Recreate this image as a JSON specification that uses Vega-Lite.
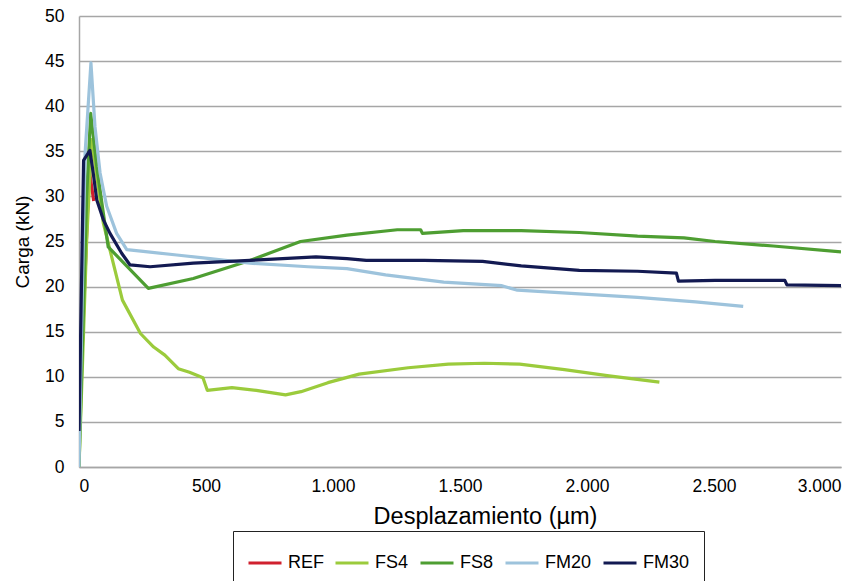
{
  "$schema": "https://vega.github.io/schema/vega-lite/v6.json",
  "width": 762,
  "height": 451,
  "autosize": {"type": "none"},
  "padding": {"left": 79, "top": 16, "right": 18, "bottom": 114},
  "background": "white",
  "config": {
    "font": "Liberation Sans",
    "view": {"stroke": null}
  },
  "data": {
    "values": [
      {"s": "REF", "x": 0, "y": 4},
      {"s": "REF", "x": 40, "y": 33},
      {"s": "REF", "x": 58, "y": 29.5},

      {"s": "FS4", "x": 0, "y": 0},
      {"s": "FS4", "x": 30, "y": 25},
      {"s": "FS4", "x": 50, "y": 36.3},
      {"s": "FS4", "x": 96, "y": 27},
      {"s": "FS4", "x": 171, "y": 18.5},
      {"s": "FS4", "x": 242, "y": 14.8},
      {"s": "FS4", "x": 294, "y": 13.3},
      {"s": "FS4", "x": 338, "y": 12.4},
      {"s": "FS4", "x": 391, "y": 10.9},
      {"s": "FS4", "x": 435, "y": 10.5},
      {"s": "FS4", "x": 488, "y": 9.9},
      {"s": "FS4", "x": 505, "y": 8.5},
      {"s": "FS4", "x": 602, "y": 8.8},
      {"s": "FS4", "x": 698, "y": 8.5},
      {"s": "FS4", "x": 813, "y": 8.0},
      {"s": "FS4", "x": 874, "y": 8.35},
      {"s": "FS4", "x": 980, "y": 9.35},
      {"s": "FS4", "x": 1103, "y": 10.3},
      {"s": "FS4", "x": 1296, "y": 11.0},
      {"s": "FS4", "x": 1454, "y": 11.4},
      {"s": "FS4", "x": 1595, "y": 11.5},
      {"s": "FS4", "x": 1735, "y": 11.4},
      {"s": "FS4", "x": 1911, "y": 10.8},
      {"s": "FS4", "x": 2087, "y": 10.1},
      {"s": "FS4", "x": 2285, "y": 9.4},

      {"s": "FS8", "x": 0, "y": 0},
      {"s": "FS8", "x": 30, "y": 30},
      {"s": "FS8", "x": 46, "y": 39.2},
      {"s": "FS8", "x": 70, "y": 33.3},
      {"s": "FS8", "x": 96, "y": 28.1},
      {"s": "FS8", "x": 115, "y": 24.4},
      {"s": "FS8", "x": 273, "y": 19.8},
      {"s": "FS8", "x": 450, "y": 20.9},
      {"s": "FS8", "x": 673, "y": 22.9},
      {"s": "FS8", "x": 872, "y": 25.0},
      {"s": "FS8", "x": 1055, "y": 25.7},
      {"s": "FS8", "x": 1253, "y": 26.3},
      {"s": "FS8", "x": 1345, "y": 26.3},
      {"s": "FS8", "x": 1352, "y": 25.9},
      {"s": "FS8", "x": 1513, "y": 26.2},
      {"s": "FS8", "x": 1741, "y": 26.2},
      {"s": "FS8", "x": 1970, "y": 26.0},
      {"s": "FS8", "x": 2199, "y": 25.6},
      {"s": "FS8", "x": 2382, "y": 25.4},
      {"s": "FS8", "x": 2504, "y": 25.0},
      {"s": "FS8", "x": 2733, "y": 24.5},
      {"s": "FS8", "x": 3000, "y": 23.85},

      {"s": "FM20", "x": 0, "y": 0},
      {"s": "FM20", "x": 10, "y": 15},
      {"s": "FM20", "x": 24, "y": 34.8},
      {"s": "FM20", "x": 47, "y": 44.8},
      {"s": "FM20", "x": 63, "y": 37.7},
      {"s": "FM20", "x": 83, "y": 32.6},
      {"s": "FM20", "x": 109, "y": 28.9},
      {"s": "FM20", "x": 148, "y": 25.9},
      {"s": "FM20", "x": 188, "y": 24.1},
      {"s": "FM20", "x": 253, "y": 23.9},
      {"s": "FM20", "x": 385, "y": 23.5},
      {"s": "FM20", "x": 516, "y": 23.1},
      {"s": "FM20", "x": 673, "y": 22.6},
      {"s": "FM20", "x": 902, "y": 22.2},
      {"s": "FM20", "x": 1055, "y": 22.0},
      {"s": "FM20", "x": 1207, "y": 21.3},
      {"s": "FM20", "x": 1436, "y": 20.5},
      {"s": "FM20", "x": 1665, "y": 20.1},
      {"s": "FM20", "x": 1726, "y": 19.6},
      {"s": "FM20", "x": 1970, "y": 19.2},
      {"s": "FM20", "x": 2199, "y": 18.8},
      {"s": "FM20", "x": 2428, "y": 18.3},
      {"s": "FM20", "x": 2615, "y": 17.8},

      {"s": "FM30", "x": 0, "y": 4},
      {"s": "FM30", "x": 18, "y": 34},
      {"s": "FM30", "x": 43, "y": 35.1},
      {"s": "FM30", "x": 56, "y": 32.6},
      {"s": "FM30", "x": 70, "y": 29.6},
      {"s": "FM30", "x": 96, "y": 27.4},
      {"s": "FM30", "x": 122, "y": 25.9},
      {"s": "FM30", "x": 168, "y": 23.7},
      {"s": "FM30", "x": 201, "y": 22.4},
      {"s": "FM30", "x": 280, "y": 22.2},
      {"s": "FM30", "x": 450, "y": 22.6},
      {"s": "FM30", "x": 673, "y": 22.9},
      {"s": "FM30", "x": 933, "y": 23.3},
      {"s": "FM30", "x": 1055, "y": 23.1},
      {"s": "FM30", "x": 1131, "y": 22.9},
      {"s": "FM30", "x": 1360, "y": 22.9},
      {"s": "FM30", "x": 1589, "y": 22.8},
      {"s": "FM30", "x": 1741, "y": 22.3},
      {"s": "FM30", "x": 1970, "y": 21.8},
      {"s": "FM30", "x": 2199, "y": 21.7},
      {"s": "FM30", "x": 2352, "y": 21.5},
      {"s": "FM30", "x": 2360, "y": 20.6},
      {"s": "FM30", "x": 2504, "y": 20.7},
      {"s": "FM30", "x": 2779, "y": 20.7},
      {"s": "FM30", "x": 2787, "y": 20.2},
      {"s": "FM30", "x": 3000, "y": 20.1}
    ]
  },
  "mark": {"type": "line", "strokeWidth": 3.2, "strokeJoin": "round", "clip": true},
  "encoding": {
    "x": {
      "field": "x",
      "type": "quantitative",
      "scale": {"domain": [0, 3000], "nice": false},
      "axis": {
        "title": "Desplazamiento (µm)",
        "titleX": 406,
        "values": [0, 500, 1000, 1500, 2000, 2500, 3000],
        "labelExpr": "replace(format(datum.value, ','), ',', '.')",
        "grid": false,
        "ticks": false,
        "domainColor": "#A6A6A6",
        "domainWidth": 1.5,
        "labelFontSize": 17.5,
        "labelColor": "black",
        "labelPadding": 10,
        "titleFontSize": 23.5,
        "titleFontWeight": "normal",
        "titleColor": "black",
        "titlePadding": 10
      }
    },
    "y": {
      "field": "y",
      "type": "quantitative",
      "scale": {"domain": [0, 50], "nice": false},
      "axis": {
        "title": "Carga (kN)",
        "values": [0, 5, 10, 15, 20, 25, 30, 35, 40, 45, 50],
        "grid": true,
        "gridColor": "#A6A6A6",
        "gridWidth": 1.5,
        "ticks": false,
        "domainColor": "#A6A6A6",
        "domainWidth": 1.5,
        "labelFontSize": 17.5,
        "labelColor": "black",
        "labelPadding": 15,
        "titleFontSize": 19,
        "titleFontWeight": "normal",
        "titleColor": "black",
        "titlePadding": 12
      }
    },
    "color": {
      "field": "s",
      "type": "nominal",
      "scale": {
        "domain": ["REF", "FS4", "FS8", "FM20", "FM30"],
        "range": ["#D0202E", "#9BCB3C", "#4E9E32", "#9DC3DC", "#131A52"]
      },
      "legend": {
        "title": null,
        "orient": "none",
        "direction": "horizontal",
        "legendX": 154,
        "legendY": 515,
        "symbolType": "stroke",
        "symbolStrokeWidth": 3,
        "symbolSize": 1089,
        "labelFontSize": 18,
        "labelColor": "black",
        "strokeColor": "#222",
        "padding": 14,
        "columnPadding": 5,
        "labelOffset": 5
      }
    }
  }
}
